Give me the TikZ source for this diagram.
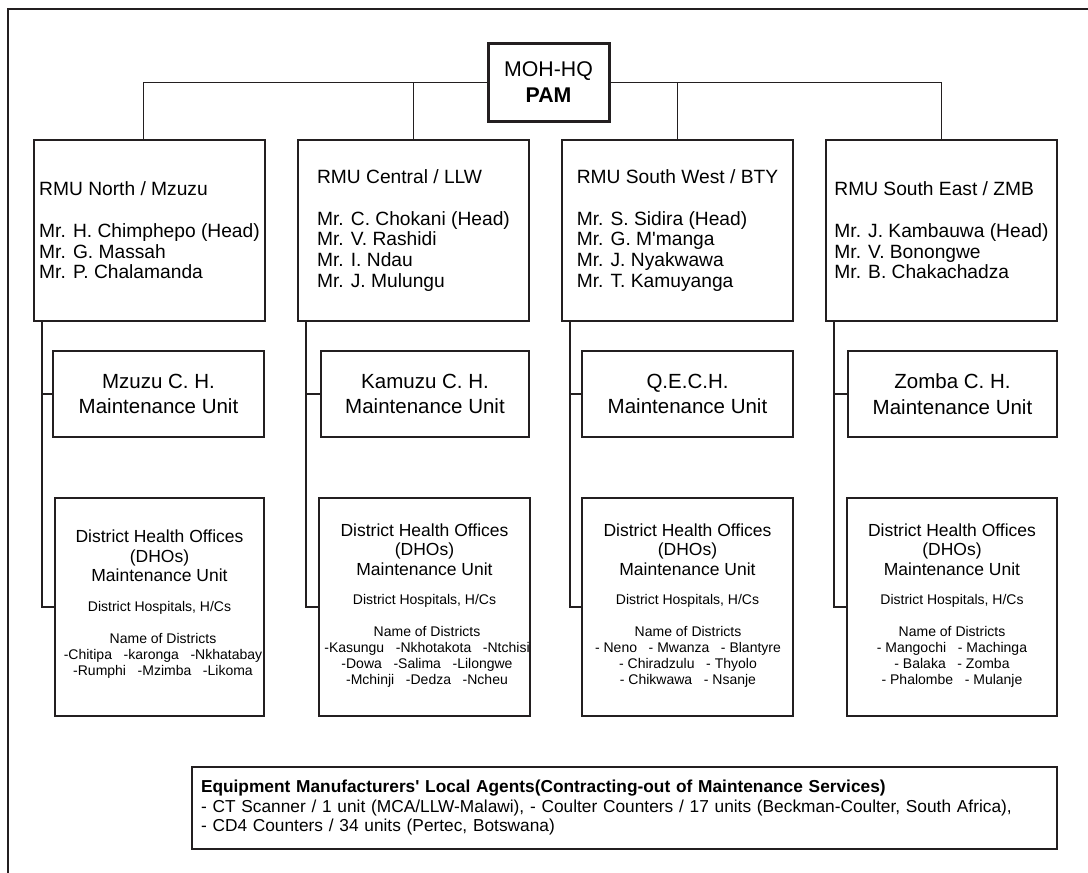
\documentclass[tikz,border=0pt]{standalone}
\usepackage{fontspec}
\setmainfont{Liberation Sans}
\definecolor{ln}{HTML}{231F20}
\newcommand\dgap{\hspace{0.83em}}
\begin{document}
\begin{tikzpicture}[x=1pt,y=-1pt,
  box/.style={draw=ln, line width=1.6pt, inner sep=0pt},
  bus/.style={draw=ln, line width=1pt},
  link/.style={draw=ln, line width=1.6pt},
  rmu/.style={box, minimum width=231pt, minimum height=181pt, align=left, font=\fontsize{19.2}{20.8}\selectfont},
  mid/.style={box, minimum height=86pt, align=center, font=\fontsize{20.5}{25.5}\selectfont},
  dho/.style={box, minimum height=218pt},
  dtop/.style={align=center, inner sep=0pt, font=\fontsize{17.5}{19.5}\selectfont},
  dsmall/.style={align=center, inner sep=0pt, font=\fontsize{14}{16}\selectfont}]
\useasboundingbox (0,0) rectangle (1088,873);
% outer frame
\draw[ln, line width=2pt] (7.5,873) -- (7.5,8.5) -- (1088,8.5);

% HQ
\node[box, line width=3pt, minimum width=121pt, minimum height=78pt, align=center,
      font=\fontsize{21.3}{25.7}\selectfont] (hq) at (548.5,82) {MOH-HQ\\\textbf{PAM}};

% RMU boxes
\node[rmu] (rmu1) at (149.5,230.5) {RMU North / Mzuzu\\[20.8pt]Mr. H. Chimphepo (Head)\\Mr. G. Massah\\Mr. P. Chalamanda};
\node[rmu] (rmu2) at (413.5,230.5) {RMU Central / LLW\\[20.8pt]Mr. C. Chokani (Head)\\Mr. V. Rashidi\\Mr. I. Ndau\\Mr. J. Mulungu};
\node[rmu] (rmu3) at (677.5,230.5) {RMU South West / BTY\\[20.8pt]Mr. S. Sidira (Head)\\Mr. G. M\textquotesingle manga\\Mr. J. Nyakwawa\\Mr. T. Kamuyanga};
\node[rmu] (rmu4) at (941.5,230.5) {RMU South East / ZMB\\[20.8pt]Mr. J. Kambauwa (Head)\\Mr. V. Bonongwe\\Mr. B. Chakachadza};

% top bus
\draw[bus] (hq.west) -| ([xshift=-6.5pt]rmu1.north);
\draw[bus] (hq.east) -| (rmu4.north);
\draw[bus] (rmu2.north) -- (rmu2.north |- hq.west);
\draw[bus] (rmu3.north) -- (rmu3.north |- hq.east);

% hospital maintenance units
\node[mid, minimum width=211pt] (mid1) at (158.5,394) {Mzuzu C. H.\\Maintenance Unit};
\node[mid, minimum width=208pt] (mid2) at (425,394) {Kamuzu C. H.\\Maintenance Unit};
\node[mid, minimum width=211pt] (mid3) at (687.5,394) {Q.E.C.H.\\Maintenance Unit};
\node[mid, minimum width=209pt] (mid4) at (952.5,394) {Zomba C. H.\\Maintenance Unit};

% DHO boxes
\node[dho, minimum width=209pt] (dho1) at (159.5,607) {};
\node[dho, minimum width=211pt] (dho2) at (424.5,607) {};
\node[dho, minimum width=211pt] (dho3) at (687.5,607) {};
\node[dho, minimum width=210pt] (dho4) at (952,607) {};

\node[dtop] (d1a) at (159.5,556) {District Health Offices\\(DHOs)\\Maintenance Unit};
\node[dsmall] (d1b) at (159.5,608) {District Hospitals, H/Cs};
\node[dsmall] (d1c) at (163,656) {Name of Districts\\-Chitipa\dgap-karonga\dgap-Nkhatabay\\-Rumphi\dgap-Mzimba\dgap-Likoma};

\node[dtop] (d2a) at (424.5,549.5) {District Health Offices\\(DHOs)\\Maintenance Unit};
\node[dsmall] (d2b) at (424.5,601) {District Hospitals, H/Cs};
\node[dsmall] (d2c) at (427,657) {Name of Districts\\-Kasungu\dgap-Nkhotakota\dgap-Ntchisi\\-Dowa\dgap-Salima\dgap-Lilongwe\\-Mchinji\dgap-Dedza\dgap-Ncheu};

\node[dtop] (d3a) at (687.5,549.5) {District Health Offices\\(DHOs)\\Maintenance Unit};
\node[dsmall] (d3b) at (687.5,601) {District Hospitals, H/Cs};
\node[dsmall] (d3c) at (688,657) {Name of Districts\\- Neno\dgap- Mwanza\dgap- Blantyre\\- Chiradzulu\dgap- Thyolo\\- Chikwawa\dgap- Nsanje};

\node[dtop] (d4a) at (952,549.5) {District Health Offices\\(DHOs)\\Maintenance Unit};
\node[dsmall] (d4b) at (952,601) {District Hospitals, H/Cs};
\node[dsmall] (d4c) at (952,657) {Name of Districts\\- Mangochi\dgap- Machinga\\- Balaka\dgap- Zomba\\- Phalombe\dgap- Mulanje};

% spines
\coordinate (s1) at (42,0);
\coordinate (s2) at (306,0);
\coordinate (s3) at (570,0);
\coordinate (s4) at (834,0);
\draw[link] (rmu1.south -| s1) |- (dho1.west);
\draw[link] (mid1.west -| s1) -- (mid1.west);
\draw[link] (rmu2.south -| s2) |- (dho2.west);
\draw[link] (mid2.west -| s2) -- (mid2.west);
\draw[link] (rmu3.south -| s3) |- (dho3.west);
\draw[link] (mid3.west -| s3) -- (mid3.west);
\draw[link] (rmu4.south -| s4) |- (dho4.west);
\draw[link] (mid4.west -| s4) -- (mid4.west);

% agents box
\node[box, minimum width=865pt, minimum height=82pt, text width=847pt, inner xsep=9pt, align=left,
      font=\fontsize{17.3}{19.5}\selectfont] (agents) at (624.5,808)
  {\textbf{Equipment Manufacturers\textquotesingle\ Local Agents(Contracting-out of Maintenance Services)}\\- CT Scanner / 1 unit (MCA/LLW-Malawi), - Coulter Counters / 17 units (Beckman-Coulter, South Africa),\\- CD4 Counters / 34 units (Pertec, Botswana)};
\end{tikzpicture}
\end{document}
